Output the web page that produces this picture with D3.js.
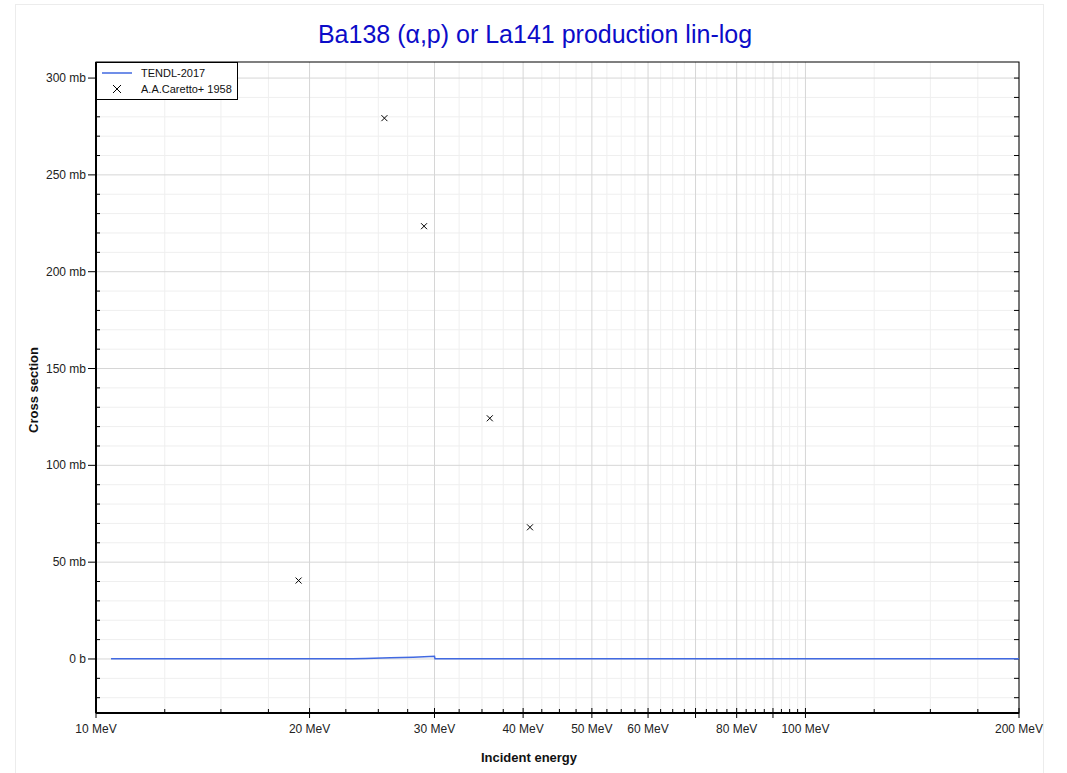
<!DOCTYPE html>
<html><head><meta charset="utf-8">
<script src="https://cdn.jsdelivr.net/npm/d3@7"></script>
<style>body{margin:0;background:#fff;font-family:Arial,"Liberation Sans",sans-serif}</style>
</head><body>
<svg id="c" width="1067" height="773"></svg>
<script>
// ---- data ----
const tendlEnergy = [10.5, 12, 14, 16, 18, 20, 22, 23, 24, 26, 28, 30, 30.05, 35, 40, 50, 60, 80, 100, 150, 200];
const tendlXS     = [0.1, 0.1, 0.1, 0.1, 0.1, 0.1, 0.12, 0.15, 0.3, 0.6, 0.95, 1.4, 0.1, 0.1, 0.1, 0.1, 0.1, 0.1, 0.1, 0.1, 0.1];
const exfEnergy = [19.3, 25.5, 29.0, 35.9, 40.9];
const exfXS     = [40.5, 279.3, 223.5, 124.3, 68.0];
const xMajor = [10, 20, 30, 40, 50, 60, 70, 80, 90, 100, 200];
const xLabels = [10, 20, 30, 40, 50, 60, 80, 100, 200];
const xMinor = [12.5,15,17.5,22.5,25,27.5,32.5,35,37.5,42.5,45,47.5,52.5,55,57.5,62.5,65,67.5,72.5,75,77.5,82.5,85,87.5,92.5,95,97.5,125,150,175];
const yMajor = [0, 50, 100, 150, 200, 250, 300];
const yMinor = [-20,-10,10,20,30,40,60,70,80,90,110,120,130,140,160,170,180,190,210,220,230,240,260,270,280,290];
const seriesNames = ["TENDL-2017", "A.A.Caretto+ 1958"];

const svg = d3.select("#c");
const L = 96, R = 1019, T = 62, B = 713;
const x = d3.scaleLog().domain([10, 200]).range([L, R]);
const y = d3.scaleLinear().domain([-27.9, 308.3]).range([B, T]);

// outer border
svg.append("rect").attr("x", 15.5).attr("y", 4.5).attr("width", 1028).attr("height", 780)
  .attr("fill", "none").attr("stroke", "#ececec");

// title
svg.append("text").attr("x", 535).attr("y", 43).attr("text-anchor", "middle")
  .attr("font-size", 25).attr("fill", "#0c0cc8").text("Ba138 (α,p) or La141 production lin-log");

// grid
const g = svg.append("g");
g.selectAll(".vmin").data(xMinor).join("line").attr("x1", d => x(d)).attr("x2", d => x(d))
  .attr("y1", T).attr("y2", B).attr("stroke", "#efefef");
g.selectAll(".hmin").data(yMinor).join("line").attr("y1", d => y(d)).attr("y2", d => y(d))
  .attr("x1", L).attr("x2", R).attr("stroke", "#efefef");
g.selectAll(".vmaj").data(xMajor).join("line").attr("x1", d => x(d)).attr("x2", d => x(d))
  .attr("y1", T).attr("y2", B).attr("stroke", "#d6d6d6");
g.selectAll(".hmaj").data(yMajor).join("line").attr("y1", d => y(d)).attr("y2", d => y(d))
  .attr("x1", L).attr("x2", R).attr("stroke", "#d6d6d6");

// frame
svg.append("rect").attr("x", L).attr("y", T).attr("width", R - L).attr("height", B - T)
  .attr("fill", "none").attr("stroke", "#000").attr("stroke-width", 1);

// bottom axis
const bx = svg.append("g").attr("transform", `translate(0,${B})`);
bx.append("path").attr("d", `M${L},0H${R}`).attr("stroke", "#000").attr("stroke-width", 2);
bx.selectAll(".mj").data(xMajor).join("line").attr("x1", d => x(d)).attr("x2", d => x(d))
  .attr("y1", -5).attr("y2", 5).attr("stroke", "#000");
bx.selectAll(".mn").data(xMinor).join("line").attr("x1", d => x(d)).attr("x2", d => x(d))
  .attr("y1", -4).attr("y2", 0).attr("stroke", "#000");
bx.selectAll(".lb").data(xLabels).join("text").attr("x", d => x(d)).attr("y", 20)
  .attr("text-anchor", "middle").attr("font-size", 12).attr("fill", "#222").text(d => d + " MeV");

// left axis
const ly = svg.append("g").attr("transform", `translate(${L},0)`);
ly.append("path").attr("d", `M0,${T}V${B}`).attr("stroke", "#000").attr("stroke-width", 2);
ly.selectAll(".mj").data(yMajor).join("line").attr("y1", d => y(d)).attr("y2", d => y(d))
  .attr("x1", -8).attr("x2", 0).attr("stroke", "#000");
ly.selectAll(".mn").data(yMinor).join("line").attr("y1", d => y(d)).attr("y2", d => y(d))
  .attr("x1", 0).attr("x2", 4).attr("stroke", "#000");
ly.selectAll(".lb").data(yMajor).join("text").attr("x", -10).attr("y", d => y(d) + 4)
  .attr("text-anchor", "end").attr("font-size", 12).attr("fill", "#222").text(d => d === 0 ? "0 b" : d + " mb");

// right axis ticks
const ry = svg.append("g").attr("transform", `translate(${R},0)`);
ry.selectAll(".t").data(yMajor.concat(yMinor)).join("line").attr("y1", d => y(d)).attr("y2", d => y(d))
  .attr("x1", -5).attr("x2", 0).attr("stroke", "#000");

// axis titles
svg.append("text").attr("x", 529).attr("y", 762).attr("text-anchor", "middle")
  .attr("font-size", 13).attr("font-weight", "bold").attr("fill", "#111").text("Incident energy");
svg.append("text").attr("transform", "translate(38,390) rotate(-90)").attr("text-anchor", "middle")
  .attr("font-size", 13).attr("font-weight", "bold").attr("fill", "#111").text("Cross section");

// TENDL line
const tendl = tendlEnergy.map((e, i) => [e, tendlXS[i]]);
svg.append("path").datum(tendl)
  .attr("d", d3.line().x(d => x(d[0])).y(d => y(d[1])))
  .attr("fill", "none").attr("stroke", "#4169e1").attr("stroke-width", 1.5);

// EXFOR points
const s = 3;
const pts = svg.append("g");
exfEnergy.forEach((e, i) => {
  const cx = x(e), cy = y(exfXS[i]);
  pts.append("path").attr("d", `M${cx - s},${cy - s}L${cx + s},${cy + s}M${cx - s},${cy + s}L${cx + s},${cy - s}`)
    .attr("stroke", "#000").attr("stroke-width", 1);
});

// legend
const lg = svg.append("g");
lg.append("rect").attr("x", 96.5).attr("y", 62.5).attr("width", 141).attr("height", 37)
  .attr("fill", "#fff").attr("stroke", "#000");
lg.append("line").attr("x1", 102).attr("x2", 132).attr("y1", 73).attr("y2", 73)
  .attr("stroke", "#4169e1").attr("stroke-width", 1.5);
lg.append("path").attr("d", `M${117 - 4},${89 - 4}L${117 + 4},${89 + 4}M${117 - 4},${89 + 4}L${117 + 4},${89 - 4}`)
  .attr("stroke", "#000").attr("stroke-width", 1);
lg.selectAll(".lt").data(seriesNames).join("text").attr("x", 141).attr("y", (d, i) => 77 + i * 16)
  .attr("font-size", 11).attr("fill", "#111").text(d => d);
</script>
</body></html>
